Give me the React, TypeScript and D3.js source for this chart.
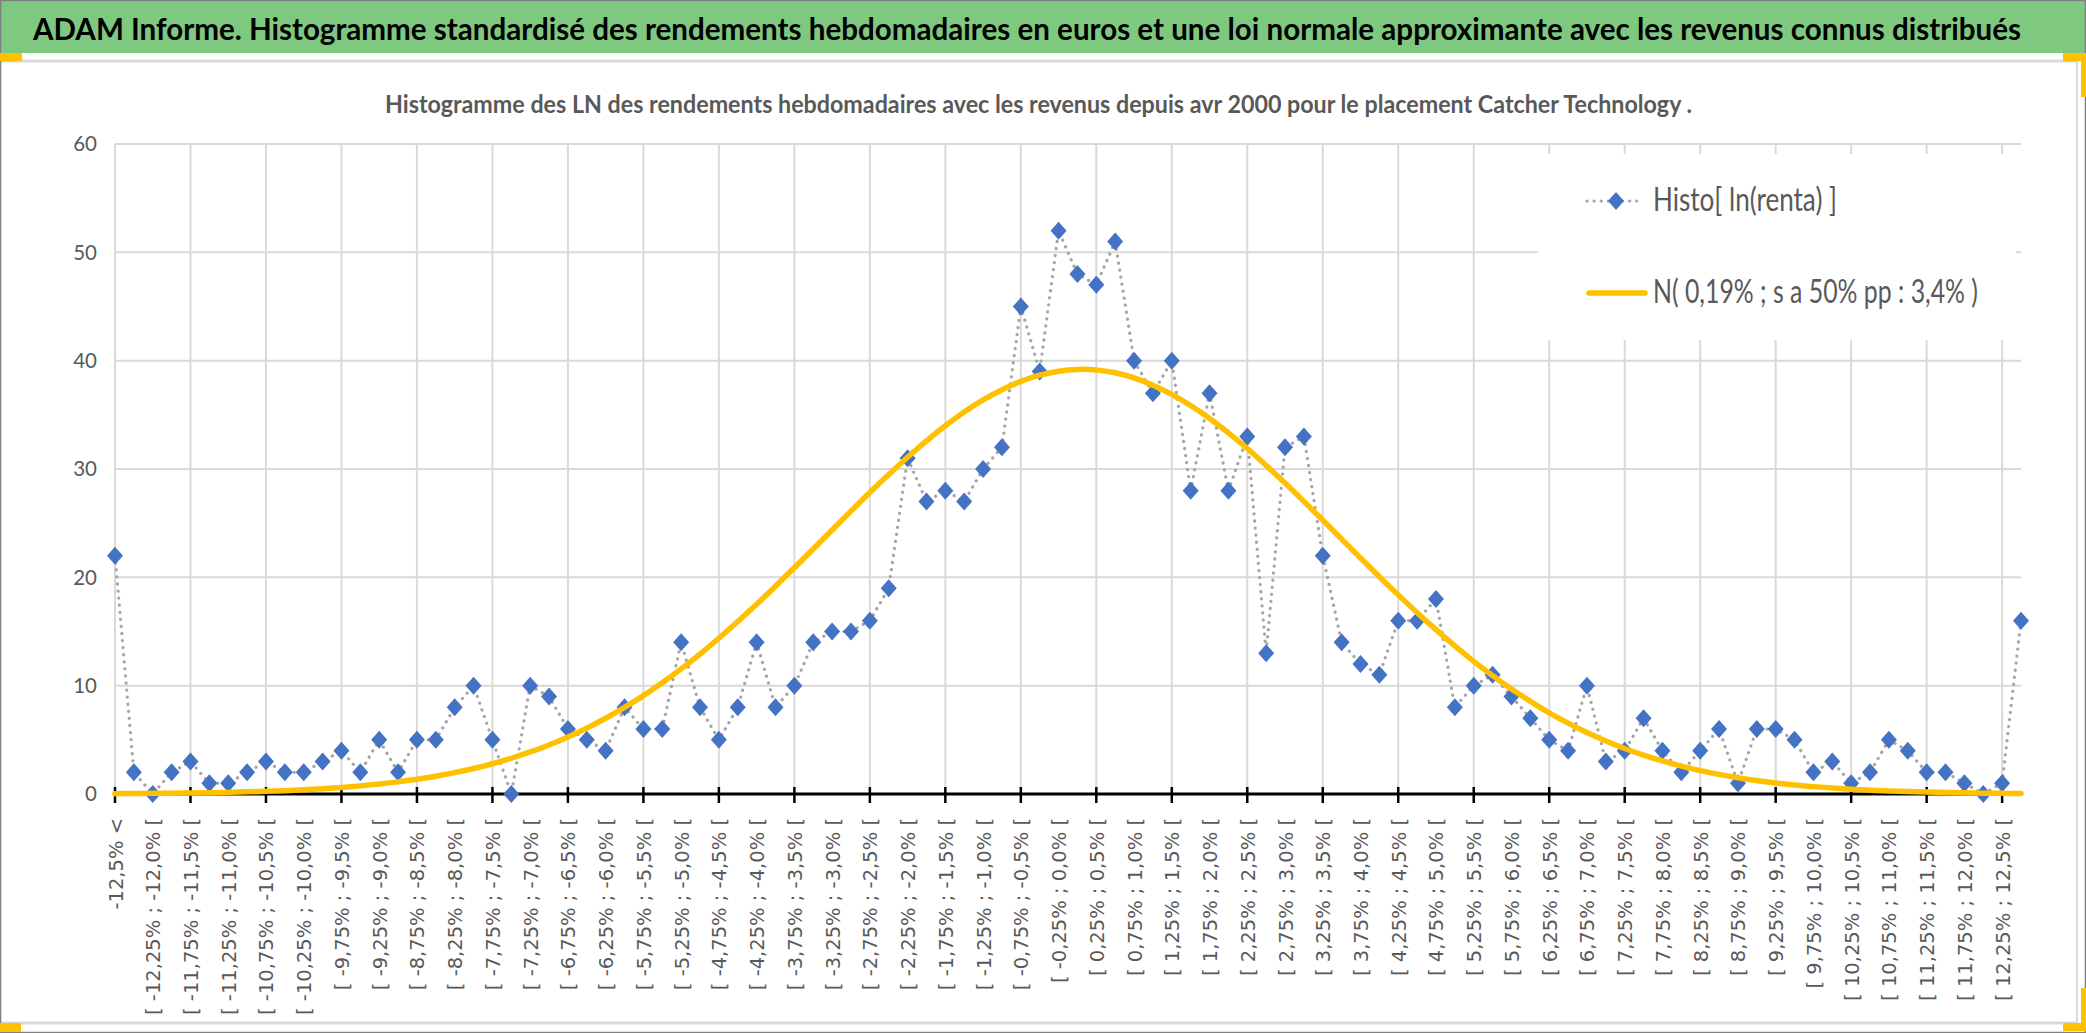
import React from "react";
import * as d3 from "d3";

const W = 2086;
const H = 1033;

const titleText =
  "ADAM Informe. Histogramme standardisé des rendements hebdomadaires en euros et une loi normale approximante avec les revenus connus distribués";
const subtitleText =
  "Histogramme des LN des rendements hebdomadaires avec les revenus depuis avr 2000 pour le placement Catcher Technology .";
const legendLabels = ["Histo[ ln(renta) ]", "N( 0,19% ; s a 50% pp : 3,4% )"];

const binEdges = [
  "-12,5%", "-12,25%", "-12,0%", "-11,75%", "-11,5%", "-11,25%", "-11,0%", "-10,75%", "-10,5%", "-10,25%",
  "-10,0%", "-9,75%", "-9,5%", "-9,25%", "-9,0%", "-8,75%", "-8,5%", "-8,25%", "-8,0%", "-7,75%",
  "-7,5%", "-7,25%", "-7,0%", "-6,75%", "-6,5%", "-6,25%", "-6,0%", "-5,75%", "-5,5%", "-5,25%",
  "-5,0%", "-4,75%", "-4,5%", "-4,25%", "-4,0%", "-3,75%", "-3,5%", "-3,25%", "-3,0%", "-2,75%",
  "-2,5%", "-2,25%", "-2,0%", "-1,75%", "-1,5%", "-1,25%", "-1,0%", "-0,75%", "-0,5%", "-0,25%",
  "0,0%", "0,25%", "0,5%", "0,75%", "1,0%", "1,25%", "1,5%", "1,75%", "2,0%", "2,25%",
  "2,5%", "2,75%", "3,0%", "3,25%", "3,5%", "3,75%", "4,0%", "4,25%", "4,5%", "4,75%",
  "5,0%", "5,25%", "5,5%", "5,75%", "6,0%", "6,25%", "6,5%", "6,75%", "7,0%", "7,25%",
  "7,5%", "7,75%", "8,0%", "8,25%", "8,5%", "8,75%", "9,0%", "9,25%", "9,5%", "9,75%",
  "10,0%", "10,25%", "10,5%", "10,75%", "11,0%", "11,25%", "11,5%", "11,75%", "12,0%", "12,25%",
  "12,5%",
];

const categories: string[] = [
  "-12,5% <",
  ...binEdges.slice(0, -1).map((e, i) => `[ ${e} ; ${binEdges[i + 1]} [`),
  "12,5% <=",
];

const histoCounts = [
  22, 2, 0, 2, 3, 1, 1, 2, 3, 2,
  2, 3, 4, 2, 5, 2, 5, 5, 8, 10,
  5, 0, 10, 9, 6, 5, 4, 8, 6, 6,
  14, 8, 5, 8, 14, 8, 10, 14, 15, 15,
  16, 19, 31, 27, 28, 27, 30, 32, 45, 39,
  52, 48, 47, 51, 40, 37, 40, 28, 37, 28,
  33, 13, 32, 33, 22, 14, 12, 11, 16, 16,
  18, 8, 10, 11, 9, 7, 5, 4, 10, 3,
  4, 7, 4, 2, 4, 6, 1, 6, 6, 5,
  2, 3, 1, 2, 5, 4, 2, 2, 1, 0,
  1, 16,
];

const normalCurve = [
  0.03, 0.04, 0.06, 0.07, 0.09, 0.12, 0.15, 0.2, 0.25, 0.31,
  0.39, 0.49, 0.61, 0.75, 0.92, 1.12, 1.36, 1.64, 1.97, 2.35,
  2.79, 3.3, 3.88, 4.52, 5.26, 6.08, 6.99, 7.99, 9.08, 10.27,
  11.55, 12.92, 14.38, 15.92, 17.52, 19.18, 20.89, 22.62, 24.37, 26.11,
  27.83, 29.49, 31.09, 32.6, 33.99, 35.26, 36.37, 37.32, 38.09, 38.66,
  39.03, 39.19, 39.14, 38.88, 38.41, 37.74, 36.89, 35.86, 34.67, 33.34,
  31.89, 30.33, 28.7, 27.01, 25.28, 23.53, 21.79, 20.06, 18.38, 16.74,
  15.17, 13.67, 12.25, 10.93, 9.69, 8.55, 7.49, 6.54, 5.67, 4.9,
  4.2, 3.59, 3.05, 2.57, 2.16, 1.81, 1.5, 1.24, 1.02, 0.83,
  0.68, 0.55, 0.44, 0.35, 0.28, 0.22, 0.18, 0.14, 0.11, 0.08,
  0.06, 0.05,
];

const yTicks = [0, 10, 20, 30, 40, 50, 60];

const BLUE = "#4472C4";
const GOLD = "#FFC000";
const GREY_TXT = "#595959";
const GRID = "#D9D9D9";
const LATO = "Lato, 'Open Sans', sans-serif";

export default function App() {
  const x = d3.scalePoint<string>().domain(categories).range([115, 2021]);
  const y = d3.scaleLinear().domain([0, 60]).range([794, 144]);

  const histoPath = d3
    .line<number>()
    .x((_, i) => x(categories[i]) as number)
    .y((d) => y(d))(histoCounts) as string;

  const normPath = d3
    .line<number>()
    .x((_, i) => x(categories[i]) as number)
    .y((d) => y(d))
    .curve(d3.curveCatmullRom.alpha(0.5))(normalCurve) as string;

  const gridCats = categories.filter((_, i) => i % 4 === 0 && i <= 100);
  const labelCats = categories.filter((_, i) => i % 2 === 0 && i <= 100);
  const diamond = (sx: number, sy: number) => `M0,${-sy}L${sx},0L0,${sy}L${-sx},0Z`;

  return (
    <svg
      width={W}
      height={H}
      viewBox={`0 0 ${W} ${H}`}
      style={{ position: "absolute", left: 0, top: 0, display: "block", background: "#fff" }}
    >
      {/* title bar */}
      <rect x={0} y={0} width={W} height={53} fill="#7EC97F" />
      <g transform="translate(33,40) scale(1,1.17)">
        <text
          x={0}
          y={0}
          fontFamily={LATO}
          fontWeight={700}
          fontSize={26.5}
          fill="#000"
          textLength={1988}
          lengthAdjust="spacingAndGlyphs"
        >
          {titleText}
        </text>
      </g>

      {/* chart frame */}
      <line x1={0} x2={2078} y1={61} y2={61} stroke={GRID} strokeWidth={3} />
      <line x1={2077} x2={2077} y1={61} y2={1023} stroke={GRID} strokeWidth={2} />
      <line x1={0} x2={2078} y1={1023} y2={1023} stroke={GRID} strokeWidth={3} />
      <rect x={0.5} y={0.5} width={W - 1} height={H - 1} fill="none" stroke="#7F7F7F" strokeWidth={1.5} />

      {/* selection handles */}
      <rect x={0} y={53} width={22} height={8} fill={GOLD} />
      <rect x={2063} y={53} width={23} height={8} fill={GOLD} />
      <rect x={2081} y={53} width={5} height={44} fill={GOLD} />
      <rect x={0} y={1023} width={21} height={9} fill={GOLD} />
      <rect x={2063} y={1023} width={23} height={8} fill={GOLD} />
      <rect x={2081} y={988} width={5} height={43} fill={GOLD} />

      {/* subtitle */}
      <text
        x={385}
        y={113}
        fontFamily={LATO}
        fontWeight={700}
        fontSize={25}
        fill={GREY_TXT}
        textLength={1307}
        lengthAdjust="spacingAndGlyphs"
      >
        {subtitleText}
      </text>

      {/* gridlines */}
      {yTicks
        .filter((t) => t > 0)
        .map((t) => (
          <line key={"h" + t} x1={115} x2={2021} y1={y(t)} y2={y(t)} stroke={GRID} strokeWidth={2} />
        ))}
      {gridCats.map((c) => (
        <line key={"v" + c} x1={x(c)} x2={x(c)} y1={y(60)} y2={y(0)} stroke={GRID} strokeWidth={2} />
      ))}

      {/* y labels */}
      {yTicks.map((t) => (
        <text
          key={"yl" + t}
          x={97}
          y={y(t)}
          dy="0.36em"
          textAnchor="end"
          fontFamily={LATO}
          fontSize={20.5}
          fill={GREY_TXT}
        >
          {t}
        </text>
      ))}

      {/* legend */}
      <rect x={1538} y={154} width={478} height={186} fill="#fff" />
      <line
        x1={1587}
        x2={1643}
        y1={201}
        y2={201}
        stroke="#A5A5A5"
        strokeWidth={3.2}
        strokeDasharray="0.1 7"
        strokeLinecap="round"
      />
      <path d={diamond(8, 9)} transform="translate(1616,201)" fill={BLUE} />
      <text
        x={1653}
        y={211}
        fontFamily={LATO}
        fontSize={32.5}
        fill={GREY_TXT}
        textLength={184}
        lengthAdjust="spacingAndGlyphs"
      >
        {legendLabels[0]}
      </text>
      <line x1={1589} x2={1645} y1={293} y2={293} stroke={GOLD} strokeWidth={5.5} strokeLinecap="round" />
      <text
        x={1653}
        y={303}
        fontFamily={LATO}
        fontSize={32.5}
        fill={GREY_TXT}
        textLength={325}
        lengthAdjust="spacingAndGlyphs"
      >
        {legendLabels[1]}
      </text>

      {/* x axis */}
      <line x1={114} x2={2021} y1={y(0)} y2={y(0)} stroke="#000" strokeWidth={3} />
      {gridCats.map((c) => (
        <line key={"t" + c} x1={x(c)} x2={x(c)} y1={787} y2={803} stroke="#000" strokeWidth={2.5} />
      ))}
      {labelCats.map((c) => (
        <text
          key={"xl" + c}
          transform={`translate(${(x(c) as number) + 7.5},818) rotate(-90)`}
          textAnchor="end"
          fontFamily="'DejaVu Sans', Verdana, sans-serif"
          fontSize={19.5}
          fill={GREY_TXT}
        >
          {c}
        </text>
      ))}

      {/* histogram series */}
      <path
        d={histoPath}
        fill="none"
        stroke="#A5A5A5"
        strokeWidth={3.2}
        strokeDasharray="0.1 7"
        strokeLinecap="round"
      />
      {histoCounts.map((v, i) => (
        <path
          key={"m" + i}
          d={diamond(8, 9)}
          transform={`translate(${x(categories[i])},${y(v)})`}
          fill={BLUE}
        />
      ))}

      {/* normal curve */}
      <path d={normPath} fill="none" stroke={GOLD} strokeWidth={5.5} strokeLinejoin="round" strokeLinecap="round" />
    </svg>
  );
}
